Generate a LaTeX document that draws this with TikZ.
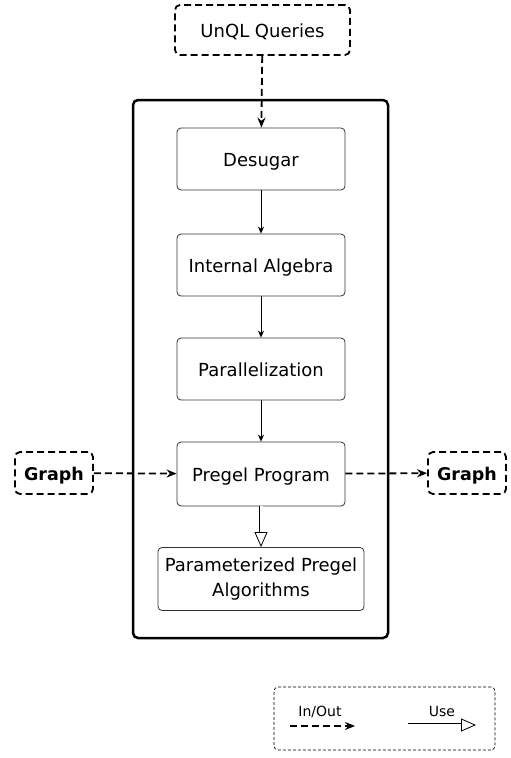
\documentclass[tikz,border=0pt]{standalone}
\usepackage{fontspec}
\setmainfont{DejaVu Sans}
\usetikzlibrary{arrows.meta}
\begin{document}
\begin{tikzpicture}[x=1pt,y=-1pt,
  stage/.style={draw=black!80,line width=0.8pt,rounded corners=4pt,
    minimum width=168pt,minimum height=62pt,font=\fontsize{18}{25}\selectfont,align=center},
  oneline/.style={text height=17pt,text depth=2pt},
  io/.style={draw,line width=1.8pt,dash pattern=on 7pt off 4pt,rounded corners=5pt,
    font=\fontsize{18}{22}\selectfont,oneline},
  flow/.style={line width=0.8pt,-{Stealth[length=7pt,width=6pt]}},
  inout/.style={line width=1.8pt,dash pattern=on 7pt off 4pt,-{Stealth[length=10pt,width=8pt]}},
  uses/.style={line width=4.6pt,-{Triangle[open,length=15pt,width=13pt,line width=0.8pt]},
    postaction={draw=white,line width=3pt,-,shorten >=15.4pt}}]
\useasboundingbox (0,0) rectangle (511,758);
% outer frame of the compiler
\draw[line width=2.5pt,rounded corners=5pt] (133,100) rectangle (388,638);
% query input
\node[io,minimum width=175pt,minimum height=50pt] (q) at (262.5,30) {UnQL Queries};
% pipeline stages
\node[stage,oneline] (ds) at (261,159) {Desugar};
\node[stage,oneline] (ia) at (261,265) {Internal Algebra};
\node[stage,oneline] (pa) at (261,369) {Parallelization};
\node[stage,oneline,minimum height=64pt] (pp) at (261,474) {Pregel Program};
\node[stage,minimum width=206pt,minimum height=63pt] (pa2) at (261,579) {Parameterized Pregel\\Algorithms};
% graph in and out
\node[io,minimum width=78pt,minimum height=42pt,font=\fontsize{17.5}{20}\selectfont\bfseries] (gin) at (54,473) {Graph};
\node[io,minimum width=78pt,minimum height=42pt,font=\fontsize{17.5}{20}\selectfont\bfseries] (gout) at (467,473) {Graph};
% connectors
\draw[inout] (q) -- (ds);
\draw[flow] (ds) -- (ia);
\draw[flow] (ia) -- (pa);
\draw[flow] (pa) -- (pp);
\draw[uses] (pp) -- (pa2);
\draw[inout] (gin) -- (pp);
\draw[inout] (pp) -- (gout);
% legend
\node[draw,line width=0.7pt,dash pattern=on 3pt off 2pt,rounded corners=4pt,
  minimum width=221pt,minimum height=63pt] (leg) at (384.5,718.5) {};
\node[font=\fontsize{14}{16}\selectfont] (lio) at (320,712) {In/Out};
\node[font=\fontsize{14}{16}\selectfont] (luse) at (442,711) {Use};
\coordinate (a1) at (290,726);
\coordinate (a2) at (355,726);
\coordinate (b1) at (408,725);
\coordinate (b2) at (476,725);
\draw[inout] (a1) -- (a2);
\draw[uses] (b1) -- (b2);
\end{tikzpicture}
\end{document}
